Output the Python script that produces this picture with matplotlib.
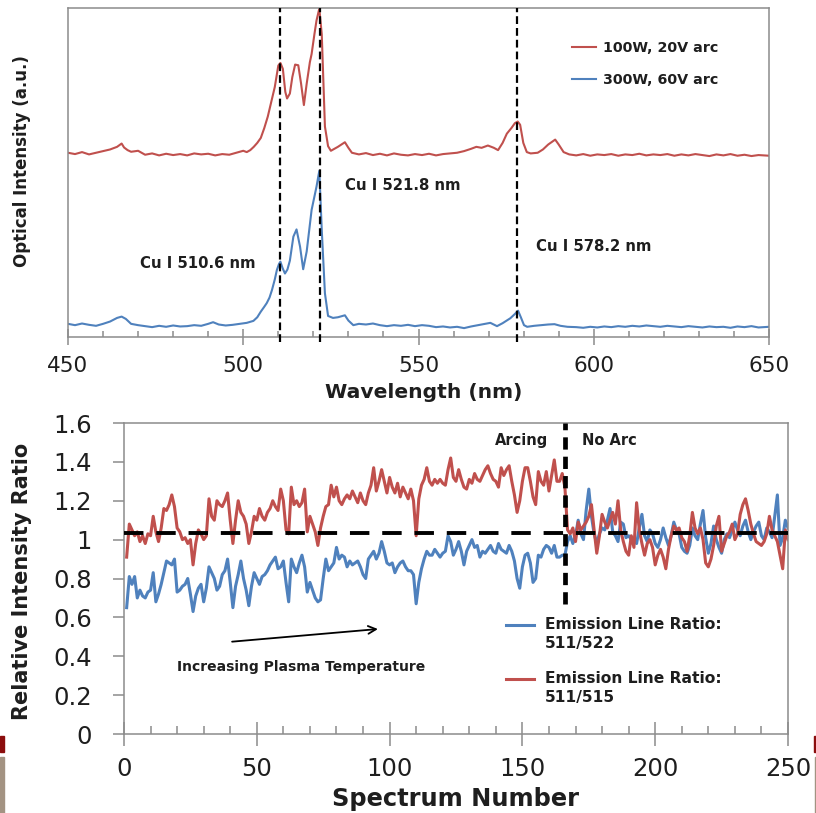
import numpy as np
import matplotlib
matplotlib.use("Agg")
import matplotlib.pyplot as plt
from matplotlib.lines import Line2D
from matplotlib.patches import Rectangle
from matplotlib.ticker import MultipleLocator, FuncFormatter

plt.rcParams['font.family'] = ['DejaVu Sans']

RED = '#C0504D'
BLUE = '#4F81BD'
GRAY = '#8C8C8C'
TXT = '#1E1E1E'

# ---------------- optical emission spectra ----------------
wl_100w = [450, 452, 454, 456, 458, 460, 462, 464, 465.3, 466, 467, 468, 470, 472, 474, 476,
           478, 480, 482, 484, 486, 488, 490, 492, 494, 496, 498, 500, 501, 502, 503, 504,
           505, 506, 507, 508, 509, 510, 510.6, 511.3, 512, 512.5, 513.3, 514, 514.8, 515.7,
           516.5, 517.3, 518.1, 519, 519.5, 520.3, 520.9, 521.7, 522.4, 523.3, 524.2, 525,
           526, 527, 528, 529, 530, 531, 533, 535, 537, 539, 541, 543, 545, 547, 549, 551,
           553, 555, 557, 559, 561, 563, 565, 566.5, 568, 569.8, 571.5, 572.7, 574, 575.2,
           576.5, 577.5, 578.3, 579, 579.9, 580.9, 582, 584, 585.5, 587, 589, 590, 591.4, 593,
           595, 597, 599, 601, 603, 605, 607, 609, 611, 613, 615, 617, 619, 621, 623, 625,
           627, 629, 631, 633, 635, 637, 639, 641, 643, 645, 647, 650]
int_100w = [0.560, 0.556, 0.562, 0.555, 0.560, 0.565, 0.570, 0.578, 0.588, 0.576, 0.568, 0.563,
            0.566, 0.554, 0.558, 0.552, 0.557, 0.553, 0.556, 0.552, 0.558, 0.555, 0.557, 0.552,
            0.556, 0.554, 0.560, 0.566, 0.562, 0.568, 0.578, 0.590, 0.605, 0.635, 0.670, 0.715,
            0.760, 0.825, 0.833, 0.815, 0.745, 0.725, 0.740, 0.790, 0.828, 0.826, 0.770, 0.705,
            0.770, 0.835, 0.860, 0.920, 0.962, 0.998, 0.920, 0.640, 0.580, 0.566, 0.572, 0.578,
            0.585, 0.592, 0.575, 0.560, 0.555, 0.559, 0.553, 0.557, 0.552, 0.558, 0.554, 0.552,
            0.556, 0.553, 0.557, 0.552, 0.556, 0.558, 0.560, 0.565, 0.572, 0.578, 0.575, 0.582,
            0.575, 0.568, 0.590, 0.618, 0.635, 0.650, 0.655, 0.645, 0.590, 0.562, 0.558, 0.560,
            0.570, 0.585, 0.600, 0.585, 0.562, 0.555, 0.552, 0.556, 0.551, 0.555, 0.553, 0.556,
            0.551, 0.555, 0.553, 0.557, 0.552, 0.555, 0.553, 0.556, 0.551, 0.555, 0.552, 0.556,
            0.553, 0.550, 0.555, 0.552, 0.556, 0.551, 0.554, 0.550, 0.553, 0.551]

wl_300w = [450, 452, 454, 456, 458, 460, 462, 464, 465.3, 466.5, 468, 470, 472, 474, 476, 478,
           480, 482, 484, 486, 488, 490, 491.4, 493, 495, 497, 499, 501, 502.9, 504, 505, 506,
           506.7, 507.5, 508.2, 509, 509.6, 510.2, 510.6, 511.2, 511.9, 512.6, 513.3, 514.3,
           515.2, 516.2, 517.1, 518.1, 519.5, 520.9, 521.7, 522.4, 523.3, 524.2, 525.6, 527,
           528, 529, 530, 531.4, 533, 535, 537, 539, 541, 543, 545, 547, 549, 551, 553, 555,
           557, 559, 561, 563, 565, 567, 569, 570.5, 572.4, 574, 576.2, 577.5, 578.4, 579.2,
           580.1, 581, 583, 585, 587, 588.8, 590.5, 592.5, 595, 597, 599, 601, 603, 605, 607,
           609, 611, 613, 615, 617, 619, 621, 623, 625, 627, 629, 631, 633, 635, 637, 639, 641,
           643, 645, 647, 650]
int_300w = [0.040, 0.036, 0.041, 0.037, 0.034, 0.040, 0.047, 0.058, 0.062, 0.055, 0.040, 0.036,
            0.033, 0.030, 0.034, 0.031, 0.035, 0.032, 0.033, 0.036, 0.034, 0.040, 0.045, 0.038,
            0.035, 0.037, 0.040, 0.043, 0.049, 0.060, 0.077, 0.092, 0.103, 0.120, 0.143, 0.175,
            0.204, 0.222, 0.229, 0.210, 0.193, 0.205, 0.232, 0.305, 0.327, 0.275, 0.206, 0.260,
            0.386, 0.457, 0.505, 0.325, 0.133, 0.064, 0.058, 0.060, 0.063, 0.066, 0.050, 0.036,
            0.040, 0.038, 0.041, 0.036, 0.033, 0.036, 0.034, 0.037, 0.033, 0.036, 0.034, 0.030,
            0.032, 0.029, 0.031, 0.027, 0.032, 0.036, 0.040, 0.043, 0.033, 0.042, 0.057, 0.070,
            0.080, 0.060, 0.036, 0.031, 0.034, 0.036, 0.038, 0.039, 0.034, 0.031, 0.030, 0.028,
            0.031, 0.029, 0.032, 0.030, 0.033, 0.031, 0.034, 0.032, 0.035, 0.033, 0.031, 0.034,
            0.032, 0.030, 0.033, 0.031, 0.029, 0.032, 0.030, 0.031, 0.028, 0.032, 0.030, 0.033,
            0.029, 0.031]

cu_lines = [510.6, 521.8, 578.2]
cu_labels = ['Cu I 510.6 nm', 'Cu I 521.8 nm', 'Cu I 578.2 nm']
cu_label_pos = [(487.0, 0.224), (545.6, 0.462), (599.9, 0.274)]
spectra_names = ['100W, 20V arc', '300W, 60V arc']

# ---------------- emission line ratios ----------------
ratio_511_515 = [
    0.91, 1.08, 1.05, 1.02, 1.04, 0.99, 1.02, 0.98, 1.03, 1.02,
    1.12, 1.04, 0.99, 1.06, 1.16, 1.15, 1.18, 1.23, 1.17, 1.06,
    1.04, 1.00, 1.01, 0.98, 1.00, 0.87, 0.98, 1.05, 1.03, 1.00,
    1.02, 1.21, 1.12, 1.10, 1.20, 1.18, 1.17, 1.20, 1.24, 1.10,
    0.98, 1.10, 1.20, 1.14, 1.12, 1.08, 0.98, 1.04, 1.12, 1.10,
    1.16, 1.12, 1.10, 1.14, 1.16, 1.20, 1.17, 1.15, 1.26, 1.20,
    1.05, 1.03, 1.27, 1.18, 1.20, 1.17, 1.19, 1.26, 1.04, 1.12,
    1.08, 1.04, 0.97, 1.06, 1.12, 1.17, 1.18, 1.28, 1.22, 1.27,
    1.20, 1.18, 1.21, 1.23, 1.21, 1.25, 1.22, 1.19, 1.24, 1.20,
    1.18, 1.24, 1.28, 1.37, 1.25, 1.30, 1.36, 1.30, 1.24, 1.32,
    1.27, 1.24, 1.29, 1.22, 1.27, 1.24, 1.21, 1.26, 1.20, 1.02,
    1.21, 1.28, 1.31, 1.37, 1.30, 1.28, 1.31, 1.29, 1.31, 1.29,
    1.28, 1.36, 1.42, 1.32, 1.30, 1.36, 1.31, 1.27, 1.26, 1.31,
    1.29, 1.34, 1.31, 1.30, 1.33, 1.36, 1.38, 1.34, 1.31, 1.30,
    1.27, 1.37, 1.33, 1.36, 1.38, 1.30, 1.23, 1.14, 1.20, 1.30,
    1.37, 1.37, 1.30, 1.22, 1.18, 1.35, 1.30, 1.28, 1.35, 1.25,
    1.33, 1.41, 1.30, 1.30, 1.34, 1.27, 1.05, 1.03, 1.06, 0.99,
    1.09, 1.05, 1.07, 1.09, 1.12, 1.18, 1.05, 0.93, 1.02, 1.13,
    1.09, 1.06, 1.10, 1.14, 1.08, 1.20, 1.05, 0.99, 0.94, 0.92,
    1.02, 0.96, 1.19, 1.05, 0.98, 0.92, 0.98, 1.00, 0.96, 0.87,
    0.92, 0.95, 0.91, 0.85, 0.95, 1.02, 1.07, 1.05, 1.06, 1.01,
    0.99, 0.94, 1.02, 1.14, 1.06, 1.03, 1.06, 1.00, 0.88, 0.86,
    0.90, 0.97, 1.07, 1.12, 0.94, 0.98, 1.02, 1.04, 1.08, 1.00,
    1.03, 1.13, 1.18, 1.21, 1.15, 1.08, 1.03, 0.99, 0.98, 0.97,
    0.99, 1.03, 1.12, 1.05, 1.02, 0.99, 0.92, 0.85, 1.05, 1.00]

ratio_511_522 = [
    0.65, 0.81, 0.77, 0.81, 0.70, 0.74, 0.71, 0.70, 0.73, 0.74,
    0.83, 0.68, 0.72, 0.77, 0.83, 0.89, 0.88, 0.87, 0.90, 0.73,
    0.74, 0.76, 0.77, 0.80, 0.72, 0.63, 0.71, 0.75, 0.77, 0.68,
    0.75, 0.86, 0.83, 0.80, 0.74, 0.76, 0.82, 0.84, 0.90, 0.78,
    0.65, 0.76, 0.82, 0.89, 0.80, 0.74, 0.66, 0.76, 0.83, 0.80,
    0.77, 0.81, 0.82, 0.84, 0.87, 0.89, 0.91, 0.85, 0.86, 0.89,
    0.78, 0.68, 0.90, 0.86, 0.83, 0.88, 0.92, 0.86, 0.73, 0.78,
    0.74, 0.70, 0.68, 0.69, 0.80, 0.90, 0.84, 0.86, 0.88, 0.96,
    0.90, 0.92, 0.91, 0.86, 0.89, 0.87, 0.88, 0.89, 0.86, 0.82,
    0.80, 0.90, 0.92, 0.94, 0.90, 0.93, 0.99, 0.94, 0.88, 0.87,
    0.88, 0.83, 0.86, 0.88, 0.89, 0.86, 0.84, 0.84, 0.82, 0.67,
    0.78, 0.85, 0.90, 0.94, 0.92, 0.92, 0.95, 0.93, 0.91, 0.93,
    0.94, 1.02, 0.99, 0.92, 0.95, 0.99, 0.94, 0.87, 0.94, 0.97,
    1.00, 0.96, 0.97, 0.91, 0.94, 0.93, 0.95, 0.97, 0.94, 0.93,
    0.98, 0.95, 0.94, 0.93, 0.97, 0.94, 0.89, 0.80, 0.75, 0.86,
    0.92, 0.93, 0.88, 0.78, 0.80, 0.92, 0.91, 0.95, 0.97, 0.96,
    0.93, 0.97, 0.91, 0.91, 0.92, 0.92, 0.99, 1.02, 0.98, 1.02,
    1.10, 1.03, 1.00, 1.15, 1.26, 1.12, 1.03, 0.98, 1.03, 1.06,
    1.05, 1.10, 1.16, 1.04, 1.02, 0.99, 1.09, 1.08, 1.01, 1.02,
    1.00, 1.00, 0.98, 1.06, 1.13, 1.02, 0.99, 1.05, 1.03, 0.98,
    0.96, 1.00, 1.06, 1.01, 0.97, 1.02, 1.09, 1.05, 1.03, 0.96,
    0.94, 0.93, 0.97, 1.06, 1.02, 1.00, 1.08, 1.15, 1.01, 0.93,
    0.98, 1.07, 1.00, 0.96, 0.93, 1.00, 1.03, 1.01, 1.05, 1.09,
    1.05, 1.02, 1.07, 1.10, 1.04, 1.00, 1.04, 1.07, 1.09, 1.02,
    1.00, 1.06, 1.04, 1.01, 1.12, 1.23, 0.97, 1.01, 1.10, 1.06]

spectrum_number = np.arange(1, len(ratio_511_515) + 1)
unity_level = 1.035
arc_stop = 166
ratio_names = ['Emission Line Ratio:\n511/522', 'Emission Line Ratio:\n511/515']

W, H = 816, 813
fig = plt.figure(figsize=(W / 100, H / 100), dpi=100)


def frac_box(left, top, right, bottom):
    return [left / W, 1 - bottom / H, (right - left) / W, (bottom - top) / H]


def style_box(ax):
    for s in ax.spines.values():
        s.set_color(GRAY)
        s.set_linewidth(1.1)


# ---- top panel: spectra ----
ax1 = fig.add_axes(frac_box(68, 8, 769, 337))
ax1.plot(wl_100w, int_100w, color=RED, lw=1.5, solid_joinstyle='round', label=spectra_names[0])
ax1.plot(wl_300w, int_300w, color=BLUE, lw=1.5, solid_joinstyle='round', label=spectra_names[1])
for x in cu_lines:
    ax1.axvline(x, ymin=-0.015, ymax=1, color='black', lw=1.6, ls=(0, (3.5, 1.8)),
                clip_on=False, zorder=3)
for txt, (x, y) in zip(cu_labels, cu_label_pos):
    ax1.text(x, y, txt, ha='center', va='center', fontsize=10.7, fontweight='bold', color=TXT)
ax1.set_xlim(450, 650)
ax1.set_ylim(0, 1)
ax1.set_yticks([])
ax1.xaxis.set_major_locator(MultipleLocator(50))
ax1.xaxis.set_minor_locator(MultipleLocator(10))
ax1.tick_params(axis='x', which='major', direction='inout', length=11, width=1.1,
                color=GRAY, labelsize=15.5, labelcolor=TXT, pad=8)
ax1.tick_params(axis='x', which='minor', direction='in', length=4, width=1.1, color=GRAY)
style_box(ax1)
ax1.set_xlabel('Wavelength (nm)', fontsize=14.6, fontweight='bold', color=TXT)
ax1.xaxis.set_label_coords(0.507, -0.17)
ax1.xaxis.label.set_va('center')
ax1.set_ylabel('Optical Intensity (a.u.)', fontsize=12, fontweight='bold', color=TXT)
ax1.yaxis.set_label_coords(-0.0656, 0.535)
ax1.yaxis.label.set_va('center')
leg1 = ax1.legend(loc='upper left', bbox_to_anchor=((572 - 68) / 701, (337 - 41) / 329),
                  frameon=False, fontsize=10.3, handlelength=1.65, handletextpad=0.55,
                  labelspacing=1.25, borderpad=0, borderaxespad=0)
for t in leg1.get_texts():
    t.set_fontweight('bold')
    t.set_color(TXT)

# ---- bottom panel: line ratios ----
ax2 = fig.add_axes(frac_box(124, 423, 788, 734))
ax2.plot(spectrum_number, ratio_511_522, color=BLUE, lw=2.2, solid_joinstyle='round')
ax2.plot(spectrum_number, ratio_511_515, color=RED, lw=2.2, solid_joinstyle='round')
ax2.axhline(unity_level, color='black', lw=2.8, ls=(0, (5, 3.3)), zorder=4)
ax2.axvline(arc_stop, ymin=(0.67 / 1.6), ymax=1, color='black', lw=3.4, ls=(0, (2.6, 1.5)), zorder=4)
ax2.set_xlim(0, 250)
ax2.set_ylim(0, 1.6)
ax2.xaxis.set_major_locator(MultipleLocator(50))
ax2.xaxis.set_minor_locator(MultipleLocator(10))
ax2.yaxis.set_major_locator(MultipleLocator(0.2))
ax2.yaxis.set_major_formatter(FuncFormatter(lambda v, p: '%g' % round(v, 2)))
ax2.tick_params(axis='x', which='major', direction='inout', length=17, width=1.1,
                color=GRAY, labelsize=17.5, labelcolor=TXT, pad=8)
ax2.tick_params(axis='x', which='minor', direction='in', length=6, width=1.1, color=GRAY)
ax2.tick_params(axis='y', which='major', direction='out', length=8, width=1.1,
                color=GRAY, labelsize=17.5, labelcolor=TXT, pad=15)
style_box(ax2)
ax2.set_xlabel('Spectrum Number', fontsize=17.4, fontweight='bold', color=TXT)
ax2.xaxis.set_label_coords(0.5, (734 - 799) / 311)
ax2.xaxis.label.set_va('center')
ax2.set_ylabel('Relative Intensity Ratio', fontsize=15, fontweight='bold', color=TXT)
ax2.yaxis.set_label_coords((22 - 124) / 664, 0.49)
ax2.yaxis.label.set_va('center')

ax2.text(149.7, 1.509, 'Arcing', ha='center', va='center', fontsize=10.5,
         fontweight='bold', color=TXT)
ax2.text(182.7, 1.509, 'No Arc', ha='center', va='center', fontsize=10.5,
         fontweight='bold', color=TXT)
ax2.text(66.7, 0.346, 'Increasing Plasma Temperature', ha='center', va='center',
         fontsize=10, fontweight='bold', color=TXT)
ax2.annotate('', xy=(95.6, 0.540), xytext=(40.7, 0.475),
             arrowprops=dict(arrowstyle='->', color='black', lw=1.3, shrinkA=0, shrinkB=0,
                             mutation_scale=14))

# legend keys with two-line labels, key aligned with the first line
for k, (name, col) in enumerate(zip(ratio_names, [BLUE, RED])):
    y0 = (734 - (625 + 54 * k)) / 311
    ax2.add_line(Line2D([(506 - 124) / 664, (534 - 124) / 664], [y0, y0],
                        transform=ax2.transAxes, color=col, lw=2.2))
    ax2.text((545 - 124) / 664, y0 + 8 / 311, name, transform=ax2.transAxes,
             ha='left', va='top', fontsize=11.2, fontweight='bold', color=TXT,
             linespacing=1.35)

# slide-edge strips
for (x0, y0, w, h, c) in [(0, 736, 4, 16, '#8B0D0D'), (0, 757, 4, 56, '#A39382'),
                          (814, 736, 2, 16, '#8B0D0D'), (815, 757, 1, 56, '#A39382')]:
    fig.patches.append(Rectangle((x0 / W, 1 - (y0 + h) / H), w / W, h / H,
                                 transform=fig.transFigure, color=c, zorder=0))

fig.savefig('out.png', dpi=100)
